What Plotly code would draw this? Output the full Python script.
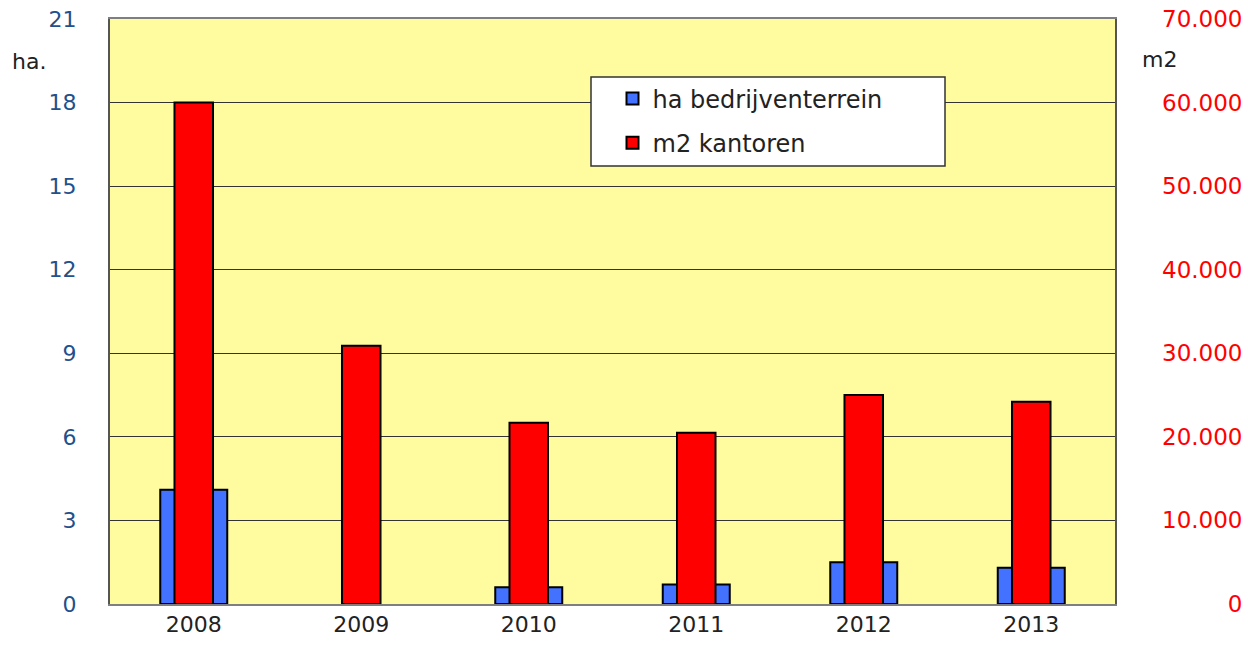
import plotly.graph_objects as go

years = ["2008", "2009", "2010", "2011", "2012", "2013"]
ha_bedrijventerrein = [4.1, None, 0.6, 0.7, 1.5, 1.3]
m2_kantoren = [60000, 30900, 21700, 20500, 25000, 24200]

left_ticks = [0, 3, 6, 9, 12, 15, 18, 21]
right_ticks = [0, 10000, 20000, 30000, 40000, 50000, 60000, 70000]
right_ticktext = ["\u2007\u2007\u2008\u2007\u20070", "10.000", "20.000", "30.000",
                  "40.000", "50.000", "60.000", "70.000"]

FONT = "DejaVu Sans, Verdana, sans-serif"

fig = go.Figure()
fig.add_trace(go.Bar(
    x=years, y=ha_bedrijventerrein, name="ha bedrijventerrein",
    marker=dict(color="#4272FF", line=dict(color="black", width=2)),
    width=0.40, yaxis="y", legendgroup="a",
))
fig.add_trace(go.Bar(
    x=years, y=m2_kantoren, name="m2 kantoren",
    marker=dict(color="#FF0000", line=dict(color="black", width=2)),
    width=0.23, yaxis="y2", legendgroup="b",
))

fig.update_layout(
    width=1248, height=645,
    margin=dict(l=110, r=133, t=19, b=41),
    paper_bgcolor="white",
    plot_bgcolor="#FFFCA0",
    barmode="overlay",
    separators=",.",
    font=dict(family=FONT, size=22, color="#222222"),
    showlegend=True,
    legend=dict(
        x=0.5, y=0.902, xanchor="left", yanchor="top",
        bgcolor="rgba(0,0,0,0)", borderwidth=0,
        font=dict(size=24, color="#222222"),
        tracegroupgap=10,
    ),
    xaxis=dict(
        type="category", range=[-0.5, 5.5],
        showline=True, mirror=True, linecolor="#7F7F7F", linewidth=2,
        ticks="", tickfont=dict(size=22, color="#222222"),
        showgrid=False, automargin=False,
    ),
    yaxis=dict(
        range=[0, 21], tickvals=left_ticks,
        showline=True, mirror=True, linecolor="#555555", linewidth=2,
        showgrid=True, gridcolor="#333333", gridwidth=1,
        tickfont=dict(size=22, color="#23508A"),
        ticks="", ticklabelstandoff=27, zeroline=False, automargin=False,
    ),
    yaxis2=dict(
        range=[0, 70000], tickvals=right_ticks, ticktext=right_ticktext,
        overlaying="y", side="right", showgrid=False, zeroline=False,
        tickfont=dict(size=23, color="#FF0000"),
        ticks="", ticklabelstandoff=46, automargin=False,
    ),
    shapes=[dict(
        type="rect", xref="paper", yref="paper",
        x0=(591 - 110) / 1005, x1=(945 - 110) / 1005,
        y0=(604 - 166) / 585, y1=(604 - 77) / 585,
        fillcolor="white", line=dict(color="#333333", width=1.5), layer="above",
    )],
    annotations=[
        dict(text="ha.", xref="paper", yref="paper", x=-0.1, y=(604 - 62) / 585,
             xanchor="left", yanchor="middle", showarrow=False,
             font=dict(size=22, color="#222222")),
        dict(text="m2", xref="paper", yref="paper", x=(1140 - 110) / 1005, y=(604 - 60) / 585,
             xanchor="left", yanchor="middle", showarrow=False,
             font=dict(size=22, color="#222222")),
    ],
)

fig.write_html("out.html", config={"displayModeBar": False},
               post_script="document.body.style.margin='0';")
